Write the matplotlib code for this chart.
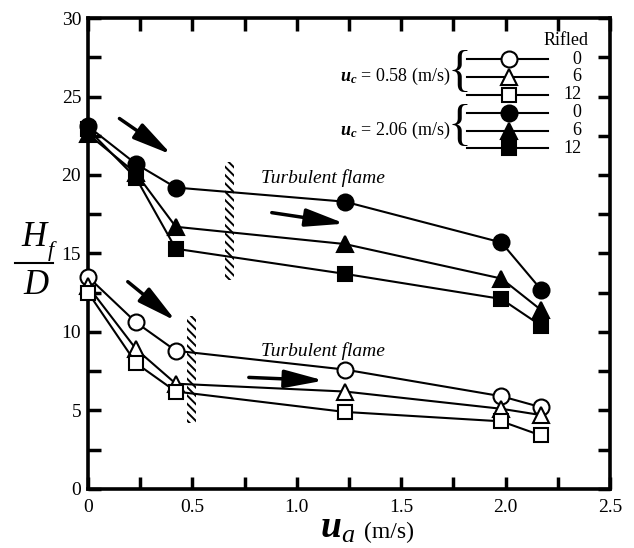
import matplotlib
matplotlib.use("Agg")
import matplotlib.pyplot as plt
from matplotlib.patches import Rectangle

plt.rcParams['font.family'] = ['Liberation Serif', 'DejaVu Serif']
plt.rcParams['mathtext.fontset'] = 'custom'
plt.rcParams['mathtext.rm'] = 'Liberation Serif'
plt.rcParams['mathtext.it'] = 'Liberation Serif:italic'
plt.rcParams['mathtext.bf'] = 'Liberation Serif:bold'
plt.rcParams['mathtext.bfit'] = 'Liberation Serif:italic:bold'
plt.rcParams['hatch.linewidth'] = 1.4

# air velocity u_a (m/s)
ua = [0.0, 0.23, 0.42, 1.23, 1.98, 2.17]

# H_f / D for u_c = 0.58 m/s (open) and u_c = 2.06 m/s (filled)
slow_0 = [13.5, 10.6, 8.8, 7.6, 5.9, 5.2]
slow_6 = [12.9, 8.9, 6.7, 6.2, 5.1, 4.7]
slow_12 = [12.5, 8.0, 6.2, 4.9, 4.3, 3.4]
fast_0 = [23.1, 20.7, 19.2, 18.3, 15.7, 12.7]
fast_6 = [22.6, 20.1, 16.7, 15.6, 13.4, 11.4]
fast_12 = [22.9, 19.8, 15.3, 13.7, 12.1, 10.4]

rifled = ['0', '6', '12']
markers = ['o', '^', 's']
msizes = [11.5, 11, 10]

fig = plt.figure(figsize=(6.34, 5.48), dpi=100)
ax = fig.add_axes([0.139, 0.108, 0.823, 0.859])

def series(y, m, ms, filled):
    face = 'black' if filled else 'white'
    ax.plot(ua, y, color='black', lw=1.5, marker=m, ms=ms, mfc=face,
            mec='black', mew=1.5, clip_on=False, zorder=3)

for y, m, ms in zip([slow_0, slow_6, slow_12], markers, msizes):
    series(y, m, ms, False)
for y, m, ms in zip([fast_0, fast_6, fast_12], markers, msizes):
    series(y, m, ms, True)

ax.set_xlim(0, 2.5)
ax.set_ylim(0, 30)
ax.set_xticks([0, 0.5, 1.0, 1.5, 2.0, 2.5])
ax.set_xticklabels(['0', '0.5', '1.0', '1.5', '2.0', '2.5'])
ax.set_xticks([0.25, 0.75, 1.25, 1.75, 2.25], minor=True)
ax.set_yticks([0, 5, 10, 15, 20, 25, 30])
ax.set_yticks([2.5, 7.5, 12.5, 17.5, 22.5, 27.5], minor=True)
ax.tick_params(which='both', direction='in', top=True, right=True,
               length=9, width=2.5, labelsize=14)
ax.tick_params(axis='x', pad=7)
ax.tick_params(axis='y', pad=5)
for s in ax.spines.values():
    s.set_linewidth(2.6)

# transition bands
ax.add_patch(Rectangle((0.657, 13.3), 0.04, 7.5, facecolor='none',
                       edgecolor='black', lw=0, hatch='\\\\\\\\'))
ax.add_patch(Rectangle((0.473, 4.2), 0.045, 6.8, facecolor='none',
                       edgecolor='black', lw=0, hatch='\\\\\\\\'))

arrow = dict(arrowstyle='-|>,head_length=1.4,head_width=0.32',
             color='black', lw=2.5, mutation_scale=17, shrinkA=0, shrinkB=0)
ax.annotate('', xy=(0.40, 21.3), xytext=(0.15, 23.6), arrowprops=arrow)
ax.annotate('', xy=(1.23, 16.9), xytext=(0.88, 17.6), arrowprops=arrow)
ax.annotate('', xy=(0.42, 10.7), xytext=(0.19, 13.2), arrowprops=arrow)
ax.annotate('', xy=(1.13, 6.9), xytext=(0.77, 7.1), arrowprops=arrow)

ax.text(0.83, 19.8, 'Turbulent flame', fontsize=14, style='italic', va='center')
ax.text(0.83, 8.8, 'Turbulent flame', fontsize=14, style='italic', va='center')

# legend
ta = ax.transAxes
rows = [0.913, 0.875, 0.837, 0.799, 0.761, 0.723]
ax.text(0.916, 0.952, 'Rifled', transform=ta, fontsize=13, ha='center', va='center')
for i, yr in enumerate(rows):
    k = i % 3
    face = 'white' if i < 3 else 'black'
    ax.plot([0.726, 0.881], [yr, yr], transform=ta, color='black', lw=1.5)
    ax.plot([0.807], [yr], transform=ta, marker=markers[k], ms=msizes[k],
            mfc=face, mec='black', mew=1.5, color='black', zorder=4)
    ax.text(0.946, yr, rifled[k], transform=ta, fontsize=13, ha='right', va='center')
for yc, lab in [(rows[1], '0.58'), (rows[4], '2.06')]:
    ax.text(0.695, yc, r'$\mathbfit{u}_{\mathbfit{c}}$' + ' = ' + lab + ' (m/s)',
            transform=ta, fontsize=13, ha='right', va='center')
    ax.text(0.712, yc + 0.008, '{', transform=ta, fontsize=36, ha='center',
            va='center', fontweight='light')

# axis labels
W, H = 634, 548
fig.text(34 / W, 1 - 237 / H, 'H', fontsize=25, style='italic', ha='center', va='center')
fig.text(51 / W, 1 - 251 / H, 'f', fontsize=16, style='italic', ha='center', va='center')
fig.add_artist(plt.Line2D([15 / W, 53 / W], [1 - 263 / H, 1 - 263 / H], color='black', lw=1.5))
fig.text(36 / W, 1 - 285 / H, 'D', fontsize=25, style='italic', ha='center', va='center')

fig.text(320 / W, 1 - 528 / H, r'$\mathbfit{u}_{a}$', fontsize=27, ha='left', va='center')
fig.text(364 / W, 1 - 532 / H, '(m/s)', fontsize=17, ha='left', va='center')

fig.savefig('out.png', dpi=100)
